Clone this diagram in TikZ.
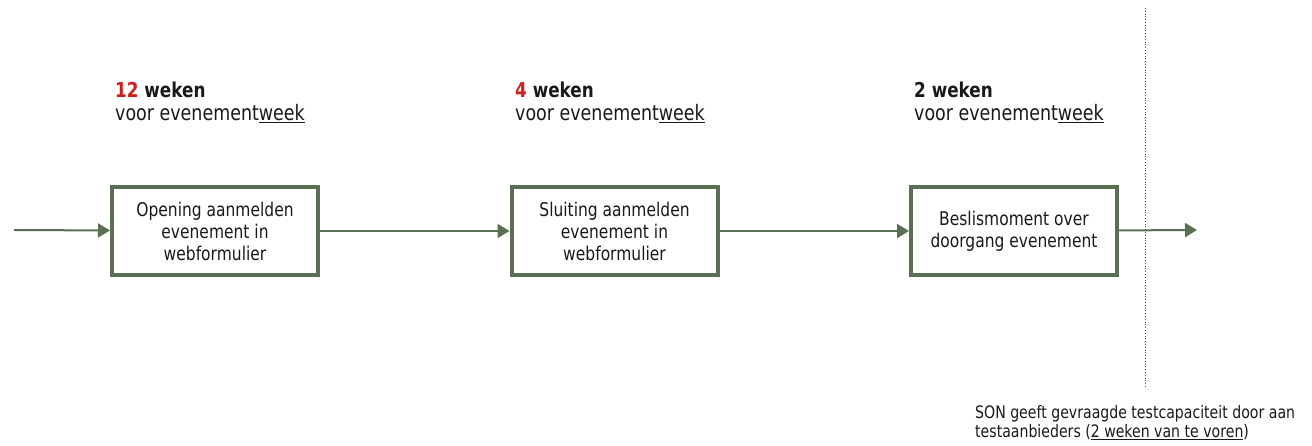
\documentclass[tikz,border=0pt]{standalone}
\usepackage{fontspec}
\setmainfont{DejaVu Sans}[FakeStretch=0.82]
\usetikzlibrary{arrows.meta}
\definecolor{groen}{RGB}{90,112,85}
\definecolor{rood}{RGB}{208,28,28}
\definecolor{inkt}{RGB}{25,25,25}

\begin{document}
\begin{tikzpicture}[x=1pt,y=-1pt]
        \useasboundingbox (0,0) rectangle (1312,446);
        \tikzset{stap/.style={draw=groen,line width=4pt,minimum width=206pt,minimum height=88pt,inner sep=0pt,align=center,text=inkt,font=\fontsize{18.9}{22}\selectfont}}
        \tikzset{kop/.style={anchor=north west,inner sep=0pt,align=left,text=inkt,font=\fontsize{21.3}{23}\selectfont}}
        \tikzset{fleche/.style={-{Triangle[length=12pt,width=14pt]},draw=groen,line width=2pt}}
        \node[stap] (OA) at (215,231) {Opening aanmelden\\evenement in\\webformulier};
        \node[stap] (SA) at (614.5,231) {Sluiting aanmelden\\evenement in\\webformulier};
        \node[stap] (BM) at (1014,231) {Beslismoment over\\doorgang evenement};
        \node[kop] (K12) at (115,82) {\textbf{\fontsize{20.5}{23}\selectfont\textcolor{rood}{12} weken}\\voor evenement\underline{week}};
        \node[kop] (K4) at (515,82) {\textbf{\fontsize{20.5}{23}\selectfont\textcolor{rood}{4} weken}\\voor evenement\underline{week}};
        \node[kop] (K2) at (914,82) {\textbf{\fontsize{20.5}{23}\selectfont 2 weken}\\voor evenement\underline{week}};
        \node[kop,font=\fontsize{17.2}{19.5}\selectfont] (SON) at (975,405) {SON geeft gevraagde testcapaciteit door aan\\testaanbieders (\underline{2 weken van te voren})};
        \coordinate (start) at (14,230);
        \coordinate (eind) at (1197,230);
        \coordinate (lijnboven) at (1145,8);
        \coordinate (lijnonder) at (1145,388);
        \draw[fleche] (start) -- (OA);
        \draw[fleche] (OA) -- (SA);
        \draw[fleche] (SA) -- (BM);
        \draw[fleche] (BM) -- (eind);
        \draw[gray!60!black,line width=0.8pt,dotted] (lijnboven) -- (lijnonder);
\end{tikzpicture}
\end{document}
